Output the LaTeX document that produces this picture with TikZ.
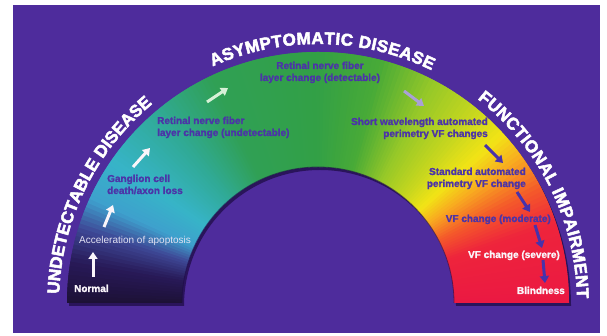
\documentclass[tikz,border=0pt]{standalone}
\usepackage{fontspec}
\setmainfont{Liberation Sans}
\newfontfamily\heavyfont[BoldFeatures={FakeBold=3}]{Liberation Sans}
\newfontfamily\labfont[BoldFeatures={FakeBold=1.5}]{Liberation Sans}
\usetikzlibrary{decorations.text,arrows.meta}
\definecolor{bgpurple}{RGB}{78,44,156}
\definecolor{shadowc}{RGB}{30,12,70}
\definecolor{txtpurple}{RGB}{76,52,168}
\definecolor{txtwhite}{RGB}{250,245,250}
\definecolor{txtlav}{RGB}{225,225,242}
\definecolor{arrdark}{RGB}{72,50,170}
\definecolor{arrpale}{RGB}{215,240,215}
\definecolor{arrlav}{RGB}{170,160,215}
% gradient stops
\definecolor{s0}{RGB}{28,16,52}
\definecolor{s1}{RGB}{40,26,88}
\definecolor{s2}{RGB}{62,72,150}
\definecolor{s3}{RGB}{62,160,205}
\definecolor{s4}{RGB}{55,180,200}
\definecolor{s5}{RGB}{48,170,150}
\definecolor{s6}{RGB}{48,160,85}
\definecolor{s7}{RGB}{50,160,70}
\definecolor{s8}{RGB}{72,170,55}
\definecolor{s9}{RGB}{150,200,40}
\definecolor{s10}{RGB}{200,215,30}
\definecolor{s11}{RGB}{242,228,22}
\definecolor{s12}{RGB}{248,168,32}
\definecolor{s13}{RGB}{244,90,42}
\definecolor{s14}{RGB}{238,36,60}
\definecolor{s15}{RGB}{235,25,66}
\newcommand\titlefnt{\heavyfont\fontsize{17}{17}\selectfont\bfseries}
\begin{document}
\begin{tikzpicture}[x=1pt,y=1pt,
  lbl/.style={font=\labfont\fontsize{10}{12}\selectfont\bfseries, inner sep=0pt, text=txtpurple},
  wlbl/.style={lbl, text=txtwhite},
  arr/.style={line width=3pt, -{Triangle[width=9pt,length=7pt]}},
  title/.style={decorate, decoration={text along path, text={|\titlefnt|#1},
      text color=white, text align={fit to path}}},
]
\useasboundingbox (0,0) rectangle (607,336);
\fill[white] (0,0) rectangle (607,336);
\fill[bgpurple] (13,3) rectangle (600,331);

\begin{scope}[shift={(318,33)}]
  % shadow
  \fill[shadowc, opacity=0.75] (2,-3) ++(251,0) arc (0:180:251) -- ++(115,0) arc (180:0:136) -- cycle;
  \begin{scope}
    \clip (251,0) arc (0:180:251) -- (-136,0) arc (180:0:136) -- cycle;
    \foreach \a/\b/\ca/\cb in {180/170/s0/s1, 170/162/s1/s2, 162/155/s2/s3,
        155/145/s3/s4, 145/130/s4/s5, 130/115/s5/s6, 115/90/s6/s7, 90/75/s7/s8,
        75/62/s8/s9, 62/50/s9/s10, 50/42/s10/s11, 42/35/s11/s12, 35/27/s12/s13,
        27/18/s13/s14, 18/0/s14/s15}{
      \pgfmathtruncatemacro\n{\a-\b}
      \foreach \i in {1,...,\n}{
        \pgfmathtruncatemacro\p{100*(\i-0.5)/\n}
        \pgfmathsetmacro\u{\a-\i+1.5}
        \pgfmathsetmacro\v{\a-\i-0.5}
        \fill[\cb!\p!\ca] (0,0) -- (\u:300) -- (\v:300) -- cycle;
      }
    }
  \end{scope}
  \draw[shadowc, opacity=0.6, line width=0.8pt] (136,0) arc (0:180:136);
  % titles
  \path[title={UNDETECTABLE DISEASE}] (178:259) arc (178:130:259);
  \path[title={ASYMPTOMATIC DISEASE}] (114:259) arc (114:64:259);
  \path[title={FUNCTIONAL IMPAIRMENT}] (52:259) arc (52:1:259);
\end{scope}

% labels
\node[wlbl, anchor=base west] (normal) at (74,44) {Normal};
\node[lbl, font=\fontsize{10}{12}\selectfont, text=txtlav, anchor=base west] (accel) at (79,92) {Acceleration of apoptosis};
\node[lbl, anchor=base west, align=left] (gang) at (107,142) {Ganglion cell\\death/axon loss};
\node[lbl, anchor=base west, align=left] (rnfu) at (157,200) {Retinal nerve fiber\\layer change (undetectable)};
\node[lbl, anchor=base, align=center] (rnfd) at (320,255) {Retinal nerve fiber\\layer change (detectable)};
\node[lbl, anchor=base east, align=right] (swap) at (488,199) {Short wavelength automated\\perimetry VF changes};
\node[lbl, anchor=base east, align=right] (sap) at (526,149) {Standard automated\\perimetry VF change};
\node[lbl, anchor=base east] (mod) at (551,114) {VF change (moderate)};
\node[wlbl, anchor=base east] (sev) at (560,78) {VF change (severe)};
\node[wlbl, anchor=base east] (blind) at (565,42) {Blindness};

% arrow end points
\coordinate (a1s) at (93,59);   \coordinate (a1e) at (93,84);
\coordinate (a2s) at (104,109); \coordinate (a2e) at (113,131);
\coordinate (a3s) at (133,169); \coordinate (a3e) at (150,188);
\coordinate (a4s) at (207,234); \coordinate (a4e) at (228,248);
\coordinate (a5s) at (404,245); \coordinate (a5e) at (424,230);
\coordinate (a6s) at (485,191); \coordinate (a6e) at (503,173);
\coordinate (a7s) at (517,144); \coordinate (a7e) at (530,124);
\coordinate (a8s) at (535,111); \coordinate (a8e) at (542,88);
\coordinate (a9s) at (543,76);  \coordinate (a9e) at (545,53);

\draw[arr, txtwhite] (a1s) -- (a1e);
\draw[arr, txtwhite] (a2s) -- (a2e);
\draw[arr, txtwhite] (a3s) -- (a3e);
\draw[arr, arrpale] (a4s) -- (a4e);
\draw[arr, arrlav] (a5s) -- (a5e);
\draw[arr, arrdark] (a6s) -- (a6e);
\draw[arr, arrdark] (a7s) -- (a7e);
\draw[arr, arrdark] (a8s) -- (a8e);
\draw[arr, arrdark] (a9s) -- (a9e);
\end{tikzpicture}
\end{document}
